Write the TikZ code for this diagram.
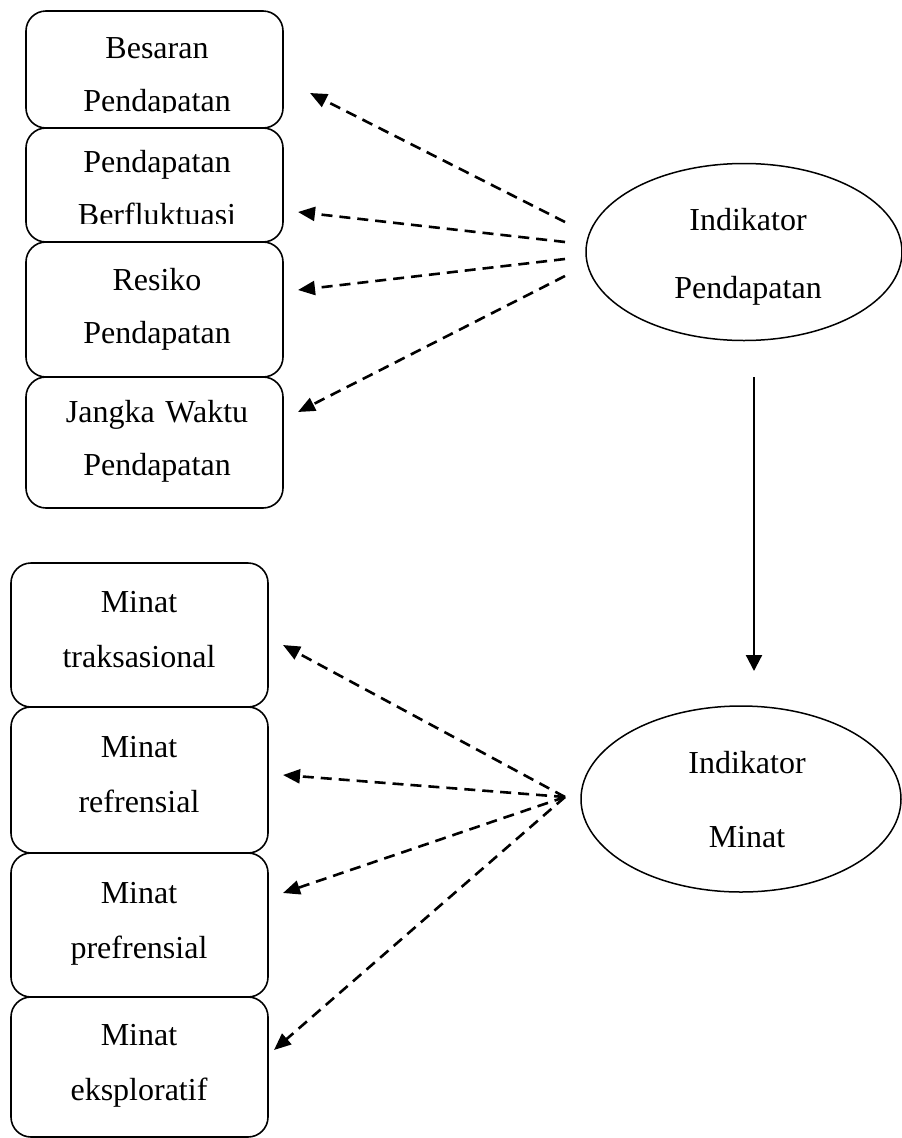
\documentclass[tikz,border=0pt]{standalone}
\usepackage{fontspec}
\setmainfont{Liberation Serif}
\usetikzlibrary{arrows.meta,shapes.geometric}
\begin{document}
\begin{tikzpicture}[x=1pt,y=-1pt,
  box/.style={draw, line width=1.6pt, rounded corners=20pt, minimum width=257pt, inner sep=0pt, fill=white},
  ell/.style={draw, ellipse, line width=1.5pt, inner sep=0pt},
  lbl/.style={font=\fontsize{32}{53}\selectfont, text width=250pt, align=center, inner sep=0pt, anchor=base},
  elbl/.style={text width=250pt, align=center, inner sep=0pt, anchor=base},
  dasharrow/.style={line width=2.6pt, dash pattern=on 11pt off 7pt, -{Triangle[length=17pt,width=14pt]}},
  solidarrow/.style={line width=2.2pt, -{Triangle[length=16pt,width=16pt]}}]
\useasboundingbox (0,0) rectangle (902,1138);
% top group boxes
\node[box, minimum height=117pt] (b1) at (154.5,69.5) {};
\node[box, minimum height=114pt] (b2) at (154.5,185) {};
\node[box, minimum height=135pt] (b3) at (154.5,309.5) {};
\node[box, minimum height=131pt] (b4) at (154.5,442.5) {};
\begin{scope}
  \clip (20,0) rectangle (290,112);
  \node[lbl] (t1) at (157,58) {Besaran\\Pendapatan};
\end{scope}
\begin{scope}
  \clip (20,130) rectangle (290,223);
  \node[lbl] (t2) at (157,172) {Pendapatan\\Berfluktuasi};
\end{scope}
\node[lbl] (t3) at (157,290) {Resiko\\Pendapatan};
\node[lbl] (t4) at (157,422) {Jangka Waktu\\Pendapatan};
% bottom group boxes
\node[box, minimum height=144pt] (b5) at (139.5,635) {};
\node[box, minimum height=146pt] (b6) at (139.5,780) {};
\node[box, minimum height=144pt] (b7) at (139.5,925) {};
\node[box, minimum height=140pt] (b8) at (139.5,1067) {};
\node[lbl, font=\fontsize{32}{55}\selectfont] (t5) at (139,612) {Minat\\traksasional};
\node[lbl, font=\fontsize{32}{55}\selectfont] (t6) at (139,757) {Minat\\refrensial};
\node[lbl, font=\fontsize{32}{55}\selectfont] (t7) at (139,903) {Minat\\prefrensial};
\node[lbl, font=\fontsize{32}{55}\selectfont] (t8) at (139,1045) {Minat\\eksploratif};
% ellipses
\node[ell, minimum width=316pt, minimum height=177pt] (e1) at (744,252) {};
\node[elbl, font=\fontsize{32}{68}\selectfont] (te1) at (748,230) {Indikator\\Pendapatan};
\node[ell, minimum width=320pt, minimum height=186pt] (e2) at (741,799) {};
\node[elbl, font=\fontsize{32}{74}\selectfont] (te2) at (747,773) {Indikator\\Minat};
% connector coordinates
\coordinate (s1) at (565,222); \coordinate (p1) at (310,93);
\coordinate (s2) at (565,242); \coordinate (p2) at (298,212);
\coordinate (s3) at (565,259); \coordinate (p3) at (298,290);
\coordinate (s4) at (565,276); \coordinate (p4) at (298,412);
\coordinate (sb) at (565,797);
\coordinate (p5) at (283,645);
\coordinate (p6) at (283,775);
\coordinate (p7) at (283,893);
\coordinate (p8) at (274,1050);
\coordinate (va) at (754,377); \coordinate (vb) at (754,671);
% connectors
\draw[dasharrow] (s1) -- (p1);
\draw[dasharrow] (s2) -- (p2);
\draw[dasharrow] (s3) -- (p3);
\draw[dasharrow] (s4) -- (p4);
\draw[dasharrow] (sb) -- (p5);
\draw[dasharrow] (sb) -- (p6);
\draw[dasharrow] (sb) -- (p7);
\draw[dasharrow] (sb) -- (p8);
\draw[solidarrow] (va) -- (vb);
\end{tikzpicture}
\end{document}
